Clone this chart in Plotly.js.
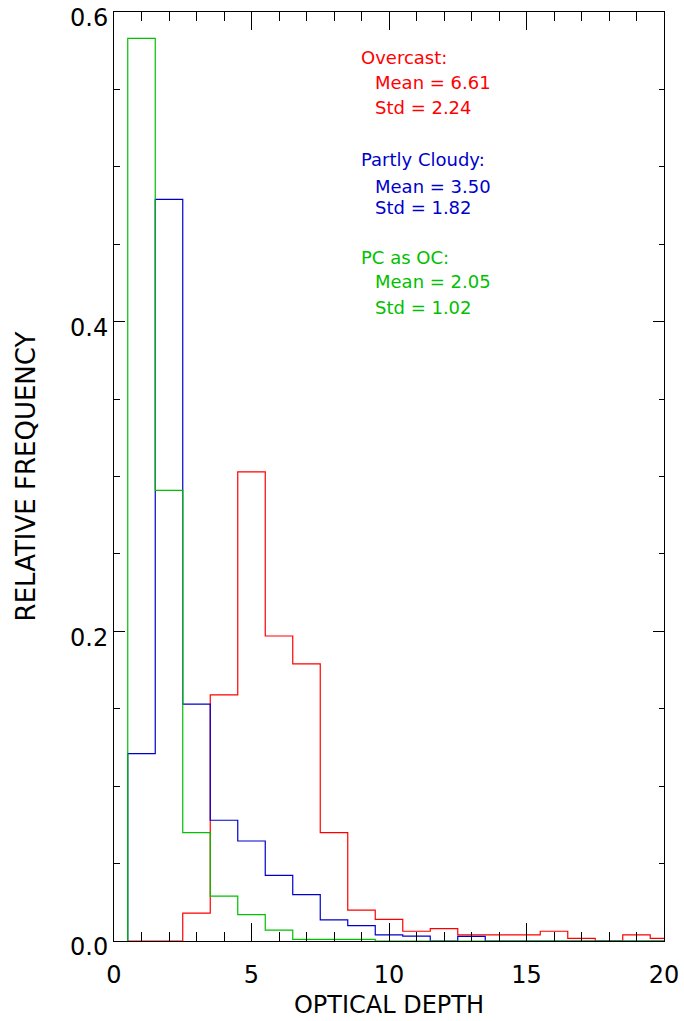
<!DOCTYPE html>
<html>
<head>
<meta charset="utf-8">
<script src="https://cdn.plot.ly/plotly-3.0.1.min.js"></script>
<style>
  html, body { margin: 0; padding: 0; background: #fff; }
  #chart { width: 684px; height: 1021px; }
</style>
</head>
<body>
<div id="chart"></div>
<script>
// Bin centres (optical depth), bin width 1
const binCenters = [1,2,3,4,5,6,7,8,9,10,11,12,13,14,15,16,17,18,19,20];

// Relative frequencies
const overcast = [0, 0, 0.018, 0.159, 0.303, 0.197, 0.179, 0.070, 0.020, 0.014,
                  0.0063, 0.008, 0.004, 0.004, 0.004, 0.0063, 0.0017, 0, 0.004, 0.0017];
const partlyCloudy = [0.121, 0.479, 0.153, 0.078, 0.0646, 0.0424, 0.030, 0.0136, 0.0099, 0.0039,
                      0.0032, 0, 0.003, 0, 0, 0, 0, 0, 0, 0];
const pcAsOc = [0.583, 0.291, 0.070, 0.029, 0.017, 0.007, 0.001, 0.001, 0.001, 0,
                0, 0, 0, 0, 0, 0, 0, 0, 0, 0];

const yTickVals = [0, 0.2, 0.4, 0.6];
const yTickText = ['0.0', '0.2', '0.4', '0.6'];
const xTickVals = [0, 5, 10, 15, 20];
const xTickText = ['0', '5', '10', '15', '20'];

const statsText = {
  overcast: ["Overcast:", "Mean = 6.61", "Std = 2.24"],
  partly:   ["Partly Cloudy:", "Mean = 3.50", "Std = 1.82"],
  pcoc:     ["PC as OC:", "Mean = 2.05", "Std = 1.02"]
};

const RED = '#ff0000', BLUE = '#0000cc', GREEN = '#00c000';

// Build step outline: start at left edge from 0, then step across bins
function stepTrace(vals, color) {
  const x = [binCenters[0] - 0.5];
  const y = [0];
  for (let i = 0; i < binCenters.length; i++) {
    x.push(binCenters[i] - 0.5);
    y.push(vals[i]);
  }
  x.push(binCenters[binCenters.length - 1] + 0.5);
  y.push(vals[vals.length - 1]);
  return {
    type: 'scatter', mode: 'lines', x: x, y: y,
    line: { shape: 'hv', color: color, width: 1.2 },
    hoverinfo: 'skip', showlegend: false
  };
}

const traces = [
  stepTrace(overcast, RED),
  stepTrace(partlyCloudy, BLUE),
  stepTrace(pcAsOc, GREEN)
];

// annotation positions (paper coords)
const xHead = 0.4470, xBody = 0.4730;
const yLines = [0.9510, 0.9236, 0.8977, 0.8411, 0.8127, 0.7896, 0.7358, 0.7094, 0.6819];
const groups = [[statsText.overcast, RED], [statsText.partly, BLUE], [statsText.pcoc, GREEN]];
const annotations = [];
groups.forEach((g, gi) => {
  g[0].forEach((t, li) => {
    annotations.push({
      xref: 'paper', yref: 'paper',
      x: li === 0 ? xHead : xBody,
      y: yLines[gi * 3 + li],
      xanchor: 'left', yanchor: 'middle',
      borderpad: 0,
      text: t, showarrow: false,
      font: { family: 'DejaVu Sans', size: 18, color: g[1] }
    });
  });
});

const FONT = 'DejaVu Sans';
const layout = {
  width: 684, height: 1021,
  margin: { l: 114, r: 20, t: 12, b: 80 },
  paper_bgcolor: '#fff', plot_bgcolor: '#fff',
  showlegend: false,
  font: { family: FONT, color: '#000' },
  xaxis: {
    range: [0, 20], tickmode: 'array', tickvals: xTickVals, ticktext: xTickText,
    showgrid: false, zeroline: false,
    showline: true, linecolor: '#000', linewidth: 1, mirror: 'ticks',
    ticks: 'inside', ticklen: 18, tickwidth: 1, tickcolor: '#000',
    ticklabelstandoff: 12,
    minor: { dtick: 1, tick0: 0, ticks: 'inside', ticklen: 9, tickwidth: 1, tickcolor: '#000', showgrid: false },
    tickfont: { family: FONT, size: 24, color: '#000' },
    title: { text: 'OPTICAL DEPTH', font: { family: FONT, size: 24, color: '#000' }, standoff: 8 }
  },
  yaxis: {
    range: [0, 0.6], tickmode: 'array', tickvals: yTickVals, ticktext: yTickText,
    showgrid: false, zeroline: false,
    showline: true, linecolor: '#000', linewidth: 1, mirror: 'ticks',
    ticks: 'inside', ticklen: 11, tickwidth: 1, tickcolor: '#000',
    ticklabeloverflow: 'allow', ticklabelshift: 6,
    minor: { dtick: 0.05, tick0: 0, ticks: 'inside', ticklen: 5.5, tickwidth: 1, tickcolor: '#000', showgrid: false },
    tickfont: { family: FONT, size: 24, color: '#000' },
    title: { text: 'RELATIVE FREQUENCY', font: { family: FONT, size: 26, color: '#000' }, standoff: 26 }
  },
  annotations: annotations
};

Plotly.newPlot('chart', traces, layout, { displayModeBar: false, staticPlot: true });
</script>
</body>
</html>
